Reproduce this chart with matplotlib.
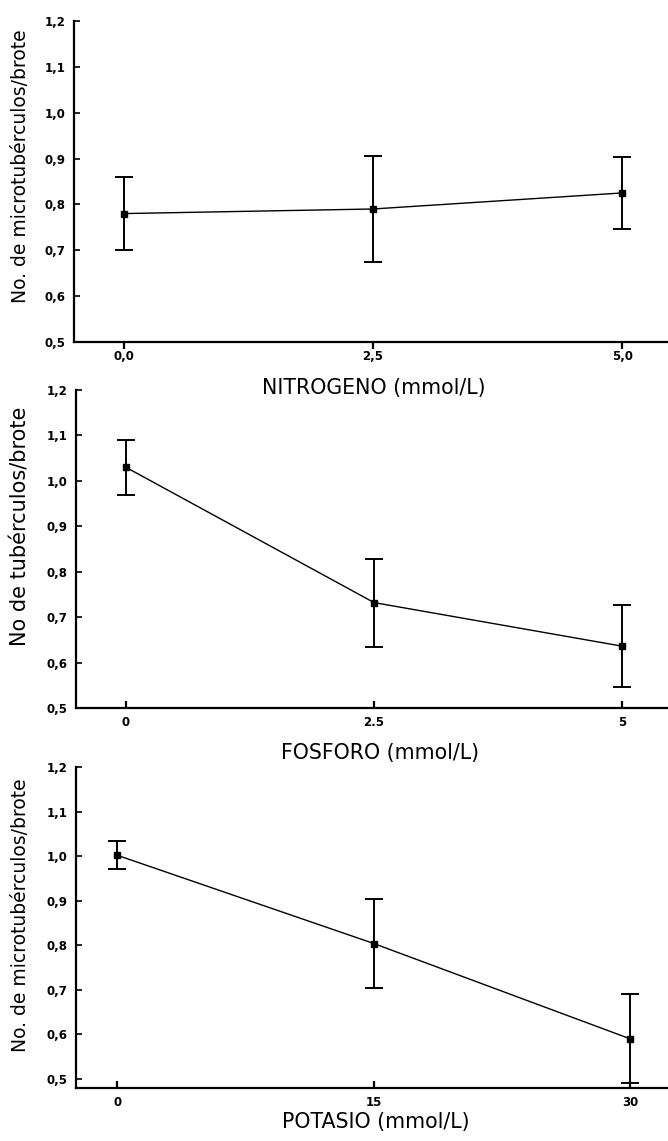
import numpy as np
import matplotlib
matplotlib.use("Agg")
import matplotlib.pyplot as plt

plt.rcParams['font.family'] = ['DejaVu Sans']

# Nitrógeno
n_x = [0.0, 2.5, 5.0]
n_y = [0.78, 0.79, 0.825]
n_err = [0.08, 0.116, 0.079]
n_ticks = ["0,0", "2,5", "5,0"]

# Fósforo
p_x = [0.0, 2.5, 5.0]
p_y = [1.03, 0.732, 0.636]
p_err = [0.061, 0.097, 0.09]
p_ticks = ["0", "2.5", "5"]

# Potasio
k_x = [0, 15, 30]
k_y = [1.002, 0.804, 0.59]
k_err = [0.031, 0.1, 0.1]
k_ticks = ["0", "15", "30"]

y_ticks = [0.5, 0.6, 0.7, 0.8, 0.9, 1.0, 1.1, 1.2]
y_ticklabels = ["0,5", "0,6", "0,7", "0,8", "0,9", "1,0", "1,1", "1,2"]

fig = plt.figure(figsize=(6.68, 11.41), dpi=100)

panels = [
    dict(x=n_x, y=n_y, err=n_err, ticks=n_ticks, xlim=(-0.5, 5.46), ylim=(0.5, 1.2),
         rect=[0.111, 0.7003, 0.889, 0.2813], xtickdir="out", xpad=1,
         xlabel="NITROGENO (mmol/L)", xlab_pos=(0.505, -0.145),
         ylabel="No. de microtubérculos/brote", ylab_pos=(-0.091, 0.547), ysize=13.5),
    dict(x=p_x, y=p_y, err=p_err, ticks=p_ticks, xlim=(-0.5, 5.46), ylim=(0.5, 1.2),
         rect=[0.114, 0.3795, 0.886, 0.2787], xtickdir="in", xpad=6,
         xlabel="FOSFORO (mmol/L)", xlab_pos=(0.513, -0.142),
         ylabel="No de tubérculos/brote", ylab_pos=(-0.094, 0.572), ysize=15),
    dict(x=k_x, y=k_y, err=k_err, ticks=k_ticks, xlim=(-2.4, 32.2), ylim=(0.48, 1.2),
         rect=[0.114, 0.0465, 0.886, 0.2813], xtickdir="in", xpad=6,
         xlabel="POTASIO (mmol/L)", xlab_pos=(0.507, -0.106),
         ylabel="No. de microtubérculos/brote", ylab_pos=(-0.094, 0.537), ysize=13.5),
]

for p in panels:
    ax = fig.add_axes(p["rect"])
    ax.patch.set_alpha(0)
    ax.errorbar(p["x"], p["y"], yerr=p["err"], color="black", lw=1.0,
                elinewidth=1.4, capsize=6.5, capthick=1.4,
                marker="s", markersize=5, markerfacecolor="black", markeredgecolor="black")
    ax.set_xlim(*p["xlim"])
    ax.set_ylim(*p["ylim"])
    ax.set_xticks(p["x"])
    ax.set_xticklabels(p["ticks"], fontsize=8.5, fontweight="bold")
    ax.set_yticks(y_ticks)
    ax.set_yticklabels(y_ticklabels, fontsize=8.5, fontweight="bold")
    for side in ["top", "right"]:
        ax.spines[side].set_visible(False)
    for side in ["left", "bottom"]:
        ax.spines[side].set_linewidth(1.6)
    ax.tick_params(axis="y", direction="in", length=4, width=1.2, pad=6)
    ax.tick_params(axis="x", direction=p["xtickdir"], length=5, width=1.6, pad=p["xpad"])
    ax.set_xlabel(p["xlabel"], fontsize=14.8, va="center")
    ax.xaxis.set_label_coords(*p["xlab_pos"])
    ax.set_ylabel(p["ylabel"], fontsize=p["ysize"], va="center")
    ax.yaxis.set_label_coords(*p["ylab_pos"])

plt.savefig("out.png", dpi=100)
